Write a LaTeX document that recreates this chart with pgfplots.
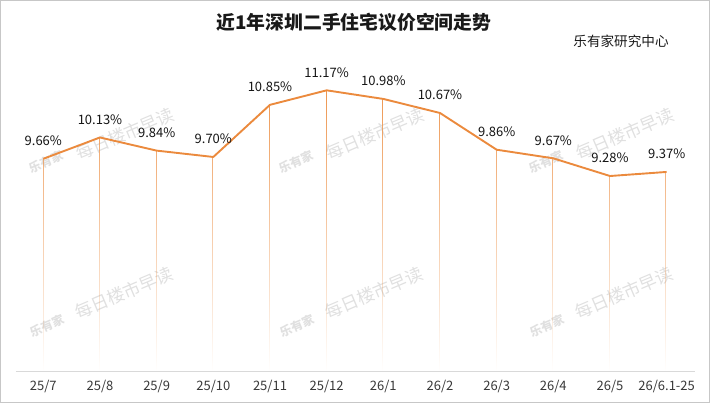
\documentclass[border=0pt]{standalone}
\usepackage{fontspec}
\setmainfont{Noto Sans CJK SC}
\usepackage{pgfplots}
\pgfplotsset{compat=1.18}
\usetikzlibrary{fadings}
\tikzfading[name=fadedown, top color=transparent!0, middle color=transparent!35, bottom color=transparent!100]
\definecolor{lineorange}{HTML}{EB8A3D}
\definecolor{wm}{HTML}{E0E0E0}
\begin{document}
\begin{tikzpicture}
\begin{scope}[x=1pt,y=1pt,shift={(-16pt,-42.7pt)}]
\path[use as bounding box] (0,0) rectangle (710,414);
\draw[color=black!22, line width=1pt] (1,11) rectangle (709,413);
% watermarks
\foreach \dx in {0,250,500} {
  \node[rotate=23, text=wm, font=\fontsize{17.5}{17.5}\selectfont] at (125+\dx, 414-134) {每日楼市早读};
  \node[rotate=23, text=wm, font=\bfseries\fontsize{12}{12}\selectfont] at (46+\dx, 414-162) {乐有家};
  \node[rotate=23, text=wm, font=\fontsize{17.5}{17.5}\selectfont] at (124+\dx, 414-293) {每日楼市早读};
  \node[rotate=23, text=wm, font=\bfseries\fontsize{12}{12}\selectfont] at (47+\dx, 414-326) {乐有家};
}
\node[font=\bfseries\fontsize{18.8}{20}\selectfont, text=black!90] at (354, 414-22.5) {近1年深圳二手住宅议价空间走势};
\node[font=\fontsize{13.6}{14}\selectfont, text=black!90] at (621, 414-41) {乐有家研究中心};
\end{scope}
\begin{axis}[
  scale only axis, width=679pt, height=318.6pt,
  xmin=-0.482, xmax=11.5, ymin=4.973, ymax=12,
  axis y line=none, axis x line*=bottom,
  x axis line style={draw=black!15, line width=1pt, -},
  xtick={0,...,11},
  xticklabels={25/7,25/8,25/9,25/10,25/11,25/12,26/1,26/2,26/3,26/4,26/5,26/6.1-25},
  major tick length=0pt,
  xticklabel style={font=\fontsize{13}{13}\selectfont, text=black!78, anchor=center, yshift=-15.4pt},
  unbounded coords=jump,
  clip=false,
]
\addplot[draw=lineorange!90, line width=0.8pt, path fading=fadedown] coordinates {
  (0,4.973) (0,9.66) (0,inf)
  (1,4.973) (1,10.13) (1,inf)
  (2,4.973) (2,9.84) (2,inf)
  (3,4.973) (3,9.70) (3,inf)
  (4,4.973) (4,10.85) (4,inf)
  (5,4.973) (5,11.17) (5,inf)
  (6,4.973) (6,10.98) (6,inf)
  (7,4.973) (7,10.67) (7,inf)
  (8,4.973) (8,9.86) (8,inf)
  (9,4.973) (9,9.67) (9,inf)
  (10,4.973) (10,9.28) (10,inf)
  (11,4.973) (11,9.37)
};
\addplot[draw=lineorange, line width=1.9pt, line join=round, mark=none,
  point meta=explicit symbolic,
  nodes near coords,
  every node near coord/.append style={anchor=center, yshift=18pt, font=\fontsize{13}{13}\selectfont, text=black!92}]
  coordinates {
  (0,9.66) [9.66\%]
  (1,10.13) [10.13\%]
  (2,9.84) [9.84\%]
  (3,9.70) [9.70\%]
  (4,10.85) [10.85\%]
  (5,11.17) [11.17\%]
  (6,10.98) [10.98\%]
  (7,10.67) [10.67\%]
  (8,9.86) [9.86\%]
  (9,9.67) [9.67\%]
  (10,9.28) [9.28\%]
  (11,9.37) [9.37\%]
};
\end{axis}
\end{tikzpicture}
\end{document}
